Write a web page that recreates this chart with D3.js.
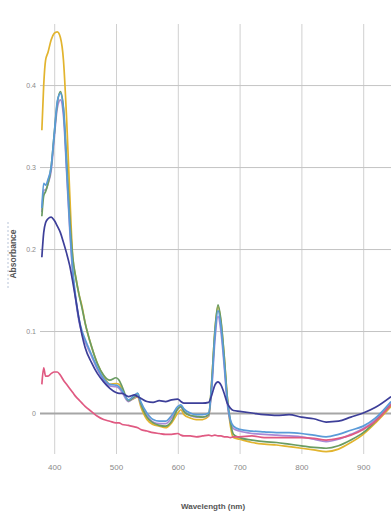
<!DOCTYPE html>
<html>
<head>
<meta charset="utf-8">
<script src="https://cdn.jsdelivr.net/npm/d3@7/dist/d3.min.js"></script>
<style>
html,body{margin:0;padding:0;background:#fff;}
svg{display:block;}
</style>
</head>
<body>
<svg id="chart" width="391" height="514"></svg>
<script>
const wavelengths = [380,383,386,390,395,400,405,410,415,420,425,430,435,440,445,450,460,470,480,490,500,505,510,520,530,535,540,550,560,570,580,590,600,605,610,620,630,640,650,655,660,665,670,675,680,685,690,700,720,740,760,780,800,820,840,860,880,900,920,945];

const gold = [0.345,0.40,0.43,0.44,0.455,0.463,0.465,0.458,0.43,0.36,0.27,0.19,0.165,0.145,0.13,0.11,0.082,0.06,0.045,0.035,0.036,0.035,0.028,0.015,0.018,0.02,0.008,-0.008,-0.014,-0.016,-0.018,-0.012,0.0,0.004,-0.002,-0.006,-0.008,-0.008,-0.004,0.04,0.1,0.13,0.11,0.07,0.02,-0.015,-0.03,-0.032,-0.036,-0.038,-0.039,-0.041,-0.043,-0.045,-0.047,-0.044,-0.036,-0.026,-0.012,0.008];

const purple = [0.245,0.272,0.272,0.28,0.295,0.335,0.372,0.382,0.362,0.295,0.225,0.17,0.137,0.112,0.097,0.087,0.07,0.053,0.04,0.033,0.032,0.03,0.025,0.014,0.019,0.021,0.011,-0.003,-0.011,-0.013,-0.013,-0.006,0.005,0.007,0.002,-0.003,-0.005,-0.005,-0.003,0.03,0.088,0.118,0.098,0.058,0.012,-0.011,-0.019,-0.022,-0.025,-0.026,-0.027,-0.028,-0.029,-0.032,-0.035,-0.032,-0.026,-0.019,-0.008,0.012];

const green = [0.24,0.265,0.27,0.28,0.3,0.34,0.378,0.392,0.372,0.31,0.24,0.19,0.165,0.145,0.128,0.11,0.082,0.06,0.046,0.04,0.043,0.04,0.032,0.015,0.02,0.024,0.012,-0.005,-0.012,-0.015,-0.016,-0.01,0.005,0.008,0.002,-0.003,-0.004,-0.005,-0.002,0.04,0.1,0.132,0.112,0.07,0.02,-0.01,-0.026,-0.03,-0.033,-0.035,-0.036,-0.038,-0.04,-0.042,-0.043,-0.04,-0.033,-0.024,-0.01,0.01];

const lightBlue = [0.25,0.28,0.278,0.285,0.3,0.34,0.38,0.39,0.37,0.3,0.23,0.175,0.14,0.115,0.1,0.09,0.072,0.055,0.042,0.035,0.034,0.032,0.027,0.016,0.022,0.024,0.014,0.0,-0.008,-0.01,-0.01,-0.003,0.008,0.01,0.005,0.0,-0.002,-0.002,0.0,0.035,0.095,0.125,0.105,0.063,0.017,-0.008,-0.016,-0.02,-0.022,-0.023,-0.024,-0.024,-0.025,-0.027,-0.029,-0.026,-0.021,-0.016,-0.006,0.014];

const pink = [0.035,0.055,0.045,0.045,0.048,0.05,0.05,0.046,0.04,0.035,0.03,0.025,0.02,0.016,0.012,0.008,0.002,-0.004,-0.008,-0.01,-0.012,-0.012,-0.014,-0.015,-0.017,-0.018,-0.02,-0.022,-0.024,-0.025,-0.026,-0.026,-0.025,-0.027,-0.028,-0.028,-0.029,-0.028,-0.027,-0.028,-0.027,-0.028,-0.028,-0.029,-0.029,-0.03,-0.029,-0.029,-0.028,-0.03,-0.03,-0.03,-0.03,-0.031,-0.033,-0.031,-0.027,-0.02,-0.01,0.01];

const navy = [0.19,0.22,0.232,0.237,0.239,0.235,0.228,0.22,0.208,0.195,0.18,0.16,0.138,0.115,0.095,0.08,0.062,0.048,0.038,0.03,0.025,0.024,0.024,0.02,0.022,0.02,0.018,0.014,0.013,0.015,0.014,0.016,0.017,0.014,0.012,0.012,0.012,0.012,0.013,0.022,0.034,0.038,0.034,0.024,0.012,0.006,0.003,0.002,0.0,-0.002,-0.003,-0.002,-0.005,-0.007,-0.011,-0.01,-0.005,0.0,0.007,0.02];

const seriesNames = ["gold","purple","green","lightBlue","pink","navy"];
const seriesValues = [gold, purple, green, lightBlue, pink, navy];
const seriesColors = ["#e2b42e","#a98ad6","#6a9c62","#5a9bd8","#e05a82","#3d3f99"];

const xTicks = [400,500,600,700,800,900];
const yTicks = [0,0.1,0.2,0.3,0.4];
const yTickLabels = ["0","0.1","0.2","0.3","0.4"];

const svg = d3.select("#chart");
const plotLeft = 40, plotRight = 391, plotTop = 24, plotBottom = 454;

const x = d3.scaleLinear().domain([377, 945]).range([plotLeft, plotRight]);
const y = d3.scaleLinear().domain([-0.05, 0.4745]).range([plotBottom, plotTop]);

svg.append("defs").append("clipPath").attr("id","clip")
  .append("rect").attr("x",plotLeft).attr("y",plotTop-12).attr("width",plotRight-plotLeft).attr("height",plotBottom-plotTop+14);

// vertical gridlines
const xAxis = d3.axisBottom(x).tickValues(xTicks).tickSize(-(plotBottom-plotTop)).tickFormat(d3.format("d"));
const gx = svg.append("g").attr("transform",`translate(0,${plotBottom})`).call(xAxis);
gx.select(".domain").remove();
gx.selectAll(".tick line").attr("stroke","#d0d0d0").attr("stroke-width",1);
gx.selectAll(".tick text").attr("dy","1.6em").attr("fill","#8a8a8a")
  .style("font-family","'Liberation Sans', Arial, sans-serif").style("font-size","8px");

// horizontal gridlines
const yAxis = d3.axisLeft(y).tickValues(yTicks).tickSize(-(plotRight-plotLeft)).tickFormat((d,i)=>yTickLabels[i]);
const gy = svg.append("g").attr("transform",`translate(${plotLeft},0)`).call(yAxis);
gy.select(".domain").remove();
gy.selectAll(".tick line").attr("stroke",d=> d===0 ? "#a6a6a6" : "#c4c4c4").attr("stroke-width",d=> d===0 ? 2 : 1);
gy.selectAll(".tick text").attr("x",-4).attr("fill","#8a8a8a")
  .style("font-family","'Liberation Sans', Arial, sans-serif").style("font-size","7px");

// lines
const line = d3.line().x((d,i)=>x(wavelengths[i])).y(d=>y(d)).curve(d3.curveMonotoneX);
const gl = svg.append("g").attr("clip-path","url(#clip)");
seriesValues.forEach((vals,k)=>{
  gl.append("path").datum(vals)
    .attr("fill","none").attr("stroke",seriesColors[k]).attr("stroke-width",1.7)
    .attr("stroke-linejoin","round").attr("d",line);
});

// axis titles
svg.append("text").attr("transform","translate(16,254) rotate(-90)")
  .attr("text-anchor","middle").attr("fill","#555")
  .style("font-family","'Liberation Sans', Arial, sans-serif").style("font-size","8.5px").style("font-weight","bold")
  .text("Absorbance");
svg.append("line").attr("x1",8).attr("x2",8).attr("y1",222).attr("y2",290)
  .attr("stroke","#b8c4d8").attr("stroke-width",1).attr("stroke-dasharray","2,2");

svg.append("text").attr("x",213).attr("y",509)
  .attr("text-anchor","middle").attr("fill","#555")
  .style("font-family","'Liberation Sans', Arial, sans-serif").style("font-size","8px").style("font-weight","bold")
  .text("Wavelength (nm)");
</script>
</body>
</html>
